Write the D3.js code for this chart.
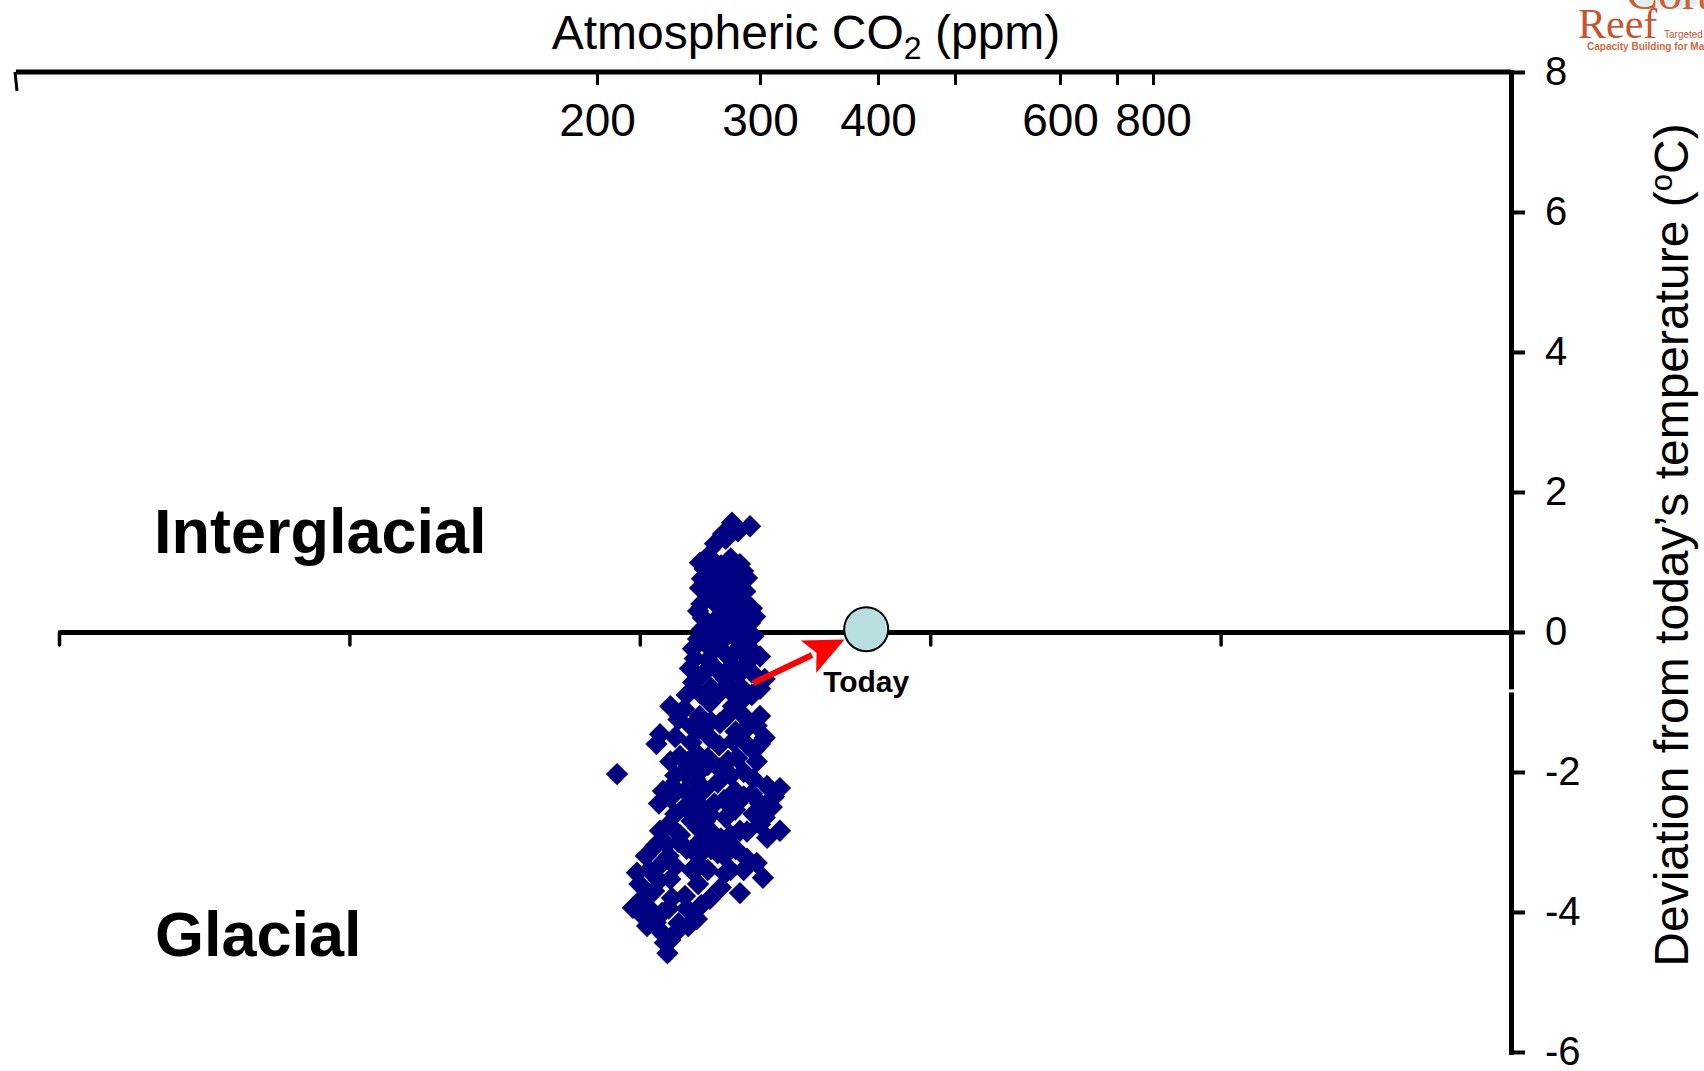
<!DOCTYPE html>
<html>
<head>
<meta charset="utf-8">
<script src="https://cdn.jsdelivr.net/npm/d3@7"></script>
<style>
  html, body { margin: 0; padding: 0; background: #ffffff; }
  svg { display: block; }
  text { font-family: "Liberation Sans", Arial, Helvetica, sans-serif; }
</style>
</head>
<body>
<svg id="chart" width="1704" height="1071"></svg>
<script>
// ---------- data ----------
const co2Ticks = [200, 300, 400, 500, 600, 700, 800];
const co2Labels = ["200", "300", "400", "", "600", "", "800"];
const tempTicks = [8, 6, 4, 2, 0, -2, -4, -6];
const tempLabels = ["8", "6", "4", "2", "0", "-2", "-4", "-6"];
const baseTicks = [0, 1, 2, 3, 4, 5];

// Ice-core samples: CO2 (ppm) and temperature deviation (°C)
const sampleCO2 = [
  282.8, 293.9, 286.5, 277.3, 272.4, 279,
  263.2, 268, 287.7, 282, 289.6, 292, 264.4, 263.2, 270, 276, 280, 284, 274, 269.3,
  275.5, 292, 295, 288, 281, 282,
  264.4, 258.9, 293.9, 296, 294, 275.5, 270, 285, 280, 279.5, 257, 259, 263, 304, 300,
  292, 287.7, 268, 274, 284, 270, 282, 290, 266, 288,
  245, 253.5, 269.3, 283.4, 300, 298, 275.5, 238.7, 263, 290, 258, 285,
  236.5, 212.3, 250.9, 304, 269.3, 283.4, 292, 263.2, 280.5, 284.7, 240.5, 244.8, 306,
  316.9, 295, 269.3, 284.7, 254, 260, 290, 274, 248, 268, 256, 278, 262, 296,
  316.9, 306, 238.7, 242.5, 287.7, 263.2, 266.3, 250.9, 276, 248, 258, 296, 300, 279,
  255, 270, 285, 244,
  224.5, 222, 230.7, 243.2, 241.7, 261.3, 269.3, 287.7, 302.5, 292, 274, 278.5, 245,
  254, 240, 250, 263.2, 235, 232, 226, 240, 258, 282, 255, 248,
  266, 272, 285, 277, 286, 291, 268, 276, 270,
  264, 272, 278, 286, 290, 280, 265, 262, 297, 276, 290, 270, 285,
  262, 260, 265, 272, 277, 283, 279, 276, 288, 295, 295, 290, 300, 267, 255,
  250, 262, 270, 280, 293, 248, 258, 275, 288, 300, 245, 262, 275, 286, 298, 253, 268, 282, 296,
  238, 246, 258, 266, 272, 290, 300, 310, 244, 254, 262, 270, 282, 292, 304, 312, 250, 264,
  230, 236, 248, 262, 268, 278, 290, 298, 228, 238, 246, 262, 276, 232, 244, 264, 275,
  236, 240, 256, 245, 228
];
const sampleTemp = [
  1.56, 1.51, 1.44, 1.40, 1.26, 1.33,
  0.99, 1.08, 0.97, 1.05, 0.87, 0.77, 0.76, 0.63, 0.85, 0.95, 0.80, 0.70, 0.70, 0.49,
  0.34, 0.40, 0.34, 0.55, 0.55, 0.45,
  0.04, -0.24, 0.13, -0.06, -0.24, 0.24, 0.10, 0.15, 0.0, -0.33, -0.52, -0.72, -0.87, -0.67, -0.81,
  -0.44, -0.59, -0.40, -0.55, -0.30, -0.80, -0.85, -0.95, -0.15, -0.15,
  -1.06, -1.10, -1.01, -1.06, -1.20, -1.34, -1.30, -1.46, -1.20, -1.20, -1.35, -1.42,
  -1.60, -2.03, -1.77, -1.51, -1.51, -1.56, -1.61, -1.99, -1.84, -2.27, -2.27, -2.37, -2.20,
  -2.23, -2.31, -2.61, -2.54, -2.27, -2.10, -2.00, -2.15, -2.05, -1.80, -1.85, -2.40, -2.45, -2.10,
  -2.84, -2.94, -2.84, -3.03, -2.84, -2.99, -2.70, -2.90, -2.95, -2.60, -2.70, -2.60, -2.75, -2.65,
  -3.10, -3.10, -3.10, -3.20,
  -3.44, -3.94, -4.20, -4.59, -4.44, -4.10, -3.81, -3.73, -3.51, -3.24, -3.16, -3.45, -3.53,
  -3.77, -4.01, -4.16, -3.33, -3.70, -3.40, -3.60, -3.30, -3.40, -3.40, -3.95, -4.30,
  0.90, 1.00, 0.88, 0.82, 0.62, 0.58, 0.55, 0.60, 0.65,
  0.40, 0.45, 0.42, 0.38, 0.25, 0.25, 0.20, 0.30, 0.22, 0.10, 0.05, -0.02, -0.02,
  -0.10, -0.38, -0.60, -0.25, -0.12, -0.48, -0.68, -0.85, -0.78, -0.90, -0.58, -0.30, -0.35, -0.95, -0.90,
  -1.25, -1.40, -1.28, -1.20, -1.35, -1.50, -1.58, -1.62, -1.45, -1.60, -1.85, -1.75, -1.95, -1.80, -1.85, -2.00, -1.90, -2.05, -1.70,
  -2.45, -2.20, -2.35, -2.25, -2.45, -2.35, -2.45, -2.50, -2.75, -2.50, -2.80, -2.85, -2.90, -2.85, -2.65, -2.35, -3.00, -2.55,
  -3.20, -3.05, -3.35, -3.20, -3.40, -3.20, -3.40, -3.30, -3.80, -3.55, -3.80, -3.60, -3.65, -3.95, -3.95, -3.90, -3.05,
  -4.15, -4.30, -4.20, -4.40, -4.05
];

const todayCO2 = 390;
const todayTemp = 0.04;
const arrowFromCO2 = 295.7;
const arrowFromTemp = -0.73;

// ---------- layout ----------
const W = 1704, H = 1071;
const svg = d3.select("#chart");
svg.append("rect").attr("width", W).attr("height", H).attr("fill", "#ffffff");

const x = d3.scaleLinear().domain(co2Ticks).range([597, 760, 878, 955, 1060, 1117, 1153]);
const y = d3.scaleLinear().domain([-6, 8]).range([1052, 72]);
const xb = d3.scaleLinear().domain([0, 5]).range([59, 1511]);

const topY = 72;
const rightX = 1511;

// ---------- logo (top right) ----------
const logo = svg.append("g");
logo.append("ellipse").attr("cx", 1668).attr("cy", 3).attr("rx", 30).attr("ry", 7)
  .attr("fill", "#e3eef5");
logo.append("text").attr("x", 1626).attr("y", 9)
  .style("font-family", "'Liberation Serif', 'DejaVu Serif', serif")
  .style("font-size", "48px").attr("fill", "#d0602e").text("Coral");
logo.append("text").attr("x", 1578).attr("y", 38)
  .style("font-family", "'Liberation Serif', 'DejaVu Serif', serif")
  .style("font-size", "42px").attr("fill", "#c9552c").text("Reef");
logo.append("text").attr("x", 1664).attr("y", 38)
  .style("font-size", "10px").attr("fill", "#c9552c").text("Targeted Research");
logo.append("text").attr("x", 1587).attr("y", 50)
  .style("font-size", "10px").style("font-weight", "bold").attr("fill", "#d06a3a")
  .text("Capacity Building for Management");

// ---------- top CO2 axis ----------
svg.append("line").attr("x1", 16).attr("x2", rightX).attr("y1", topY).attr("y2", topY)
  .attr("stroke", "#000").attr("stroke-width", 5);
svg.append("line").attr("x1", 15).attr("y1", topY).attr("x2", 17).attr("y2", 91)
  .attr("stroke", "#000").attr("stroke-width", 3);

const topAxis = svg.append("g").attr("transform", `translate(0,${topY})`)
  .call(d3.axisBottom(x).tickValues(co2Ticks)
    .tickFormat((d, i) => co2Labels[i]).tickSize(13).tickPadding(18));
topAxis.select(".domain").remove();
topAxis.selectAll(".tick line").attr("stroke", "#000").attr("stroke-width", 3);
topAxis.selectAll(".tick text").attr("fill", "#000")
  .style("font-size", "46px").style("font-family", "'Liberation Sans', Arial, sans-serif");

const title = svg.append("text").attr("x", 806).attr("y", 49)
  .attr("text-anchor", "middle").style("font-size", "48px").attr("fill", "#000");
title.append("tspan").text("Atmospheric CO");
title.append("tspan").attr("dy", 10).style("font-size", "32px").text("2");
title.append("tspan").attr("dy", -10).text(" (ppm)");

// ---------- bottom baseline axis at 0 °C ----------
const baseAxis = svg.append("g").attr("transform", `translate(0,${y(0)})`)
  .call(d3.axisBottom(xb).tickValues(baseTicks).tickFormat("").tickSize(13).tickSizeOuter(0));
baseAxis.select(".domain").attr("stroke", "#000").attr("stroke-width", 5);
baseAxis.selectAll(".tick line").attr("stroke", "#000").attr("stroke-width", 3.5)
  .attr("stroke-linecap", "round");

// ---------- right temperature axis ----------
const rightAxis = svg.append("g").attr("transform", `translate(${rightX},0)`)
  .call(d3.axisRight(y).tickValues(tempTicks).tickFormat((d, i) => tempLabels[i])
    .tickSize(14).tickPadding(20).tickSizeOuter(0));
rightAxis.select(".domain").attr("stroke", "#000").attr("stroke-width", 5)
  .attr("stroke-linecap", "square");
rightAxis.selectAll(".tick line").attr("stroke", "#000").attr("stroke-width", 4);
rightAxis.selectAll(".tick text").attr("fill", "#000")
  .style("font-size", "40px").style("font-family", "'Liberation Sans', Arial, sans-serif");
// small break in the axis line
svg.append("rect").attr("x", rightX - 4).attr("y", y(-0.82)).attr("width", 8).attr("height", 3)
  .attr("fill", "#fff");

svg.append("text")
  .attr("transform", `translate(1671,545) rotate(-90)`)
  .attr("text-anchor", "middle").attr("dy", "0.35em")
  .style("font-size", "48px").attr("fill", "#000")
  .call(t => {
    t.append("tspan").text("Deviation from today\u2019s temperature (");
    t.append("tspan").attr("dy", -16).style("font-size", "31px").text("o");
    t.append("tspan").attr("dy", 16).text("C)");
  });

// ---------- labels ----------
svg.append("text").attr("x", 154).attr("y", 553)
  .style("font-size", "63px").style("font-weight", "bold").attr("fill", "#000")
  .text("Interglacial");
svg.append("text").attr("x", 155).attr("y", 956)
  .style("font-size", "63px").style("font-weight", "bold").attr("fill", "#000")
  .text("Glacial");

// ---------- scatter ----------
const diamond = d3.symbol().type(d3.symbolSquare).size(250);
svg.append("g").selectAll("path")
  .data(sampleCO2.map((c, i) => ({ c, t: sampleTemp[i] })))
  .join("path")
  .attr("d", diamond)
  .attr("transform", d => `translate(${x(d.c)},${y(d.t)}) rotate(45)`)
  .attr("fill", "#000080");

// ---------- today marker & arrow ----------
const cx = x(todayCO2), cy = y(todayTemp), r = 22;
const sx = x(arrowFromCO2), sy = y(arrowFromTemp);
const dx = cx - sx, dy = cy - sy, len = Math.hypot(dx, dy);
const ux = dx / len, uy = dy / len;
const tipX = cx - ux * (r + 2), tipY = cy - uy * (r + 2);
const headLen = 40, headHalf = 18;
const bX = tipX - ux * headLen, bY = tipY - uy * headLen;
svg.append("line").attr("x1", sx).attr("y1", sy).attr("x2", bX + ux * 4).attr("y2", bY + uy * 4)
  .attr("stroke", "#ff0000").attr("stroke-width", 6);
svg.append("path")
  .attr("d", d3.line()([
    [tipX, tipY],
    [bX - uy * headHalf, bY + ux * headHalf],
    [bX + ux * 9, bY + uy * 9],
    [bX + uy * headHalf, bY - ux * headHalf]
  ]) + "Z")
  .attr("fill", "#ff0000");

svg.append("circle").attr("cx", cx).attr("cy", cy).attr("r", r)
  .attr("fill", "#b9dfe1").attr("stroke", "#000").attr("stroke-width", 2);
svg.append("text").attr("x", cx).attr("y", cy + 63).attr("text-anchor", "middle")
  .style("font-size", "30px").style("font-weight", "bold").attr("fill", "#000")
  .text("Today");
</script>
</body>
</html>
